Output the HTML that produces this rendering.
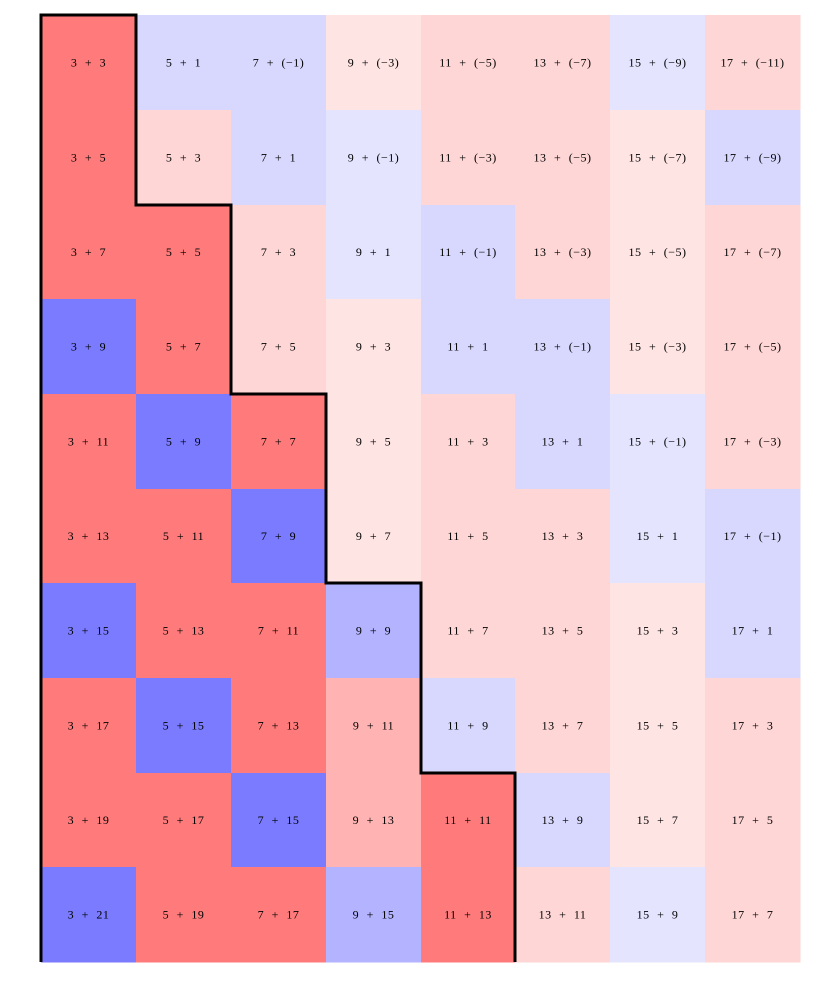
<!DOCTYPE html>
<html><head><meta charset="utf-8"><style>
html,body{margin:0;padding:0;background:#fff;}
text{word-spacing:4px;letter-spacing:0.5px;}
</style></head><body>
<svg width="834" height="992" xmlns="http://www.w3.org/2000/svg" font-family="Liberation Serif, serif" font-size="12">
<g id="cells"></g>
<polyline points="41,962 41,15 136,15 136,205 231,205 231,394 326,394 326,583 421,583 421,773 515,773 515,962" fill="none" stroke="#000" stroke-width="3"/>
</svg>
<script>
var C={R:"#ff7b7b",B:"#7b7bff",p:"#ffd6d6",q:"#ffe4e4",l:"#d8d8ff",m:"#e4e4ff",M:"#b3b3ff",P:"#ffb3b3"};
var cols=["Rllqppmp","Rplmppql","RRpmlpqp","BRpqllqp","RBRqplmp","RRBqppml","BRRMppql","RBRPlpqp","RRBPRlqp","BRRMRpmp"];
var xs=[41,136,231,326,421,515,610,705,800],ys=[15,110,205,299,394,489,583,678,773,867,962];
var g=document.getElementById("cells"),h="";
for(var r=0;r<10;r++)for(var c=0;c<8;c++){
 var a=3+2*c,b=3+2*r-2*c;
 var s=a+" + "+(b<0?"(\u2212"+(-b)+")":b);
 h+='<rect x="'+xs[c]+'" y="'+ys[r]+'" width="'+(xs[c+1]-xs[c]+0.5)+'" height="'+(ys[r+1]-ys[r]+0.5)+'" fill="'+C[cols[r][c]]+'"/>';
 h+='<text x="'+((xs[c]+xs[c+1])/2)+'" y="'+((ys[r]+ys[r+1])/2+4)+'" text-anchor="middle">'+s+'</text>';
}
g.innerHTML=h;
</script>
</body></html>
